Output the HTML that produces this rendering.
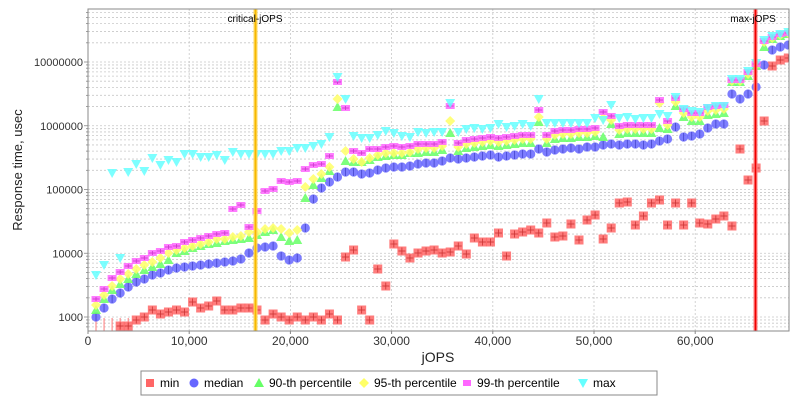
<!DOCTYPE html>
<html><head><meta charset="utf-8"><style>
html,body{margin:0;padding:0;background:#fff;width:800px;height:400px;overflow:hidden}
text{font-family:"Liberation Sans",sans-serif}
</style></head><body>
<svg id="s" width="800" height="400" xmlns="http://www.w3.org/2000/svg"></svg>
<script>
var s=document.getElementById('s');var NS='http://www.w3.org/2000/svg';
function el(t,a,txt){var e=document.createElementNS(NS,t);for(var k in a)e.setAttribute(k,a[k]);if(txt!==undefined)e.textContent=txt;s.appendChild(e);return e;}
var L=88,R=789,T=9,B=331;
function Y(v){return 317-63.75*(Math.log10(v)-3);}
function X(j){return 88+j*0.01012;}
el('rect',{x:L,y:T,width:R-L,height:B-T,fill:'#fff'});
for(var d=2;d<=7;d++)for(var m=1;m<=9;m++){var y=Y(m*Math.pow(10,d));if(y>T&&y<B)el('line',{x1:L,x2:R,y1:y,y2:y,stroke:'#c8c8c8','stroke-width':0.8,'stroke-dasharray':'2,2'});}
for(var j=10000;j<=60000;j+=10000){var x=X(j);el('line',{x1:x,x2:x,y1:T,y2:B,stroke:'#c8c8c8','stroke-width':0.8,'stroke-dasharray':'2,2'});}
var med=[317,308,299,293,287,282,279,275,273,270,268,267,266,265,264,263,262,261,259,253,248,247,246,256,260,258,228,199,188,182,177,172,172,174,173,170,168,167,167,166,164,163,
163,161,158,159,158,157,156,155,157,156,155,154,154,149,152,150,149,148,149,147,147,145,144,145,144,144,145,144,141,139,127,137,136,134,128,124,124,94,99,94,87,65,50,47,45];
var g=[310,299,290,284,279,274,270,267,264,260,253,251,248,246,244,243,241,240,239,238,235,232,230,237,241,240,198,185,178,171,107,161,162,162,160,157,156,155,155,153,153,152,
152,150,133,151,148,147,146,145,146,145,144,143,143,122,143,139,138,138,137,137,136,137,124,134,133,133,133,133,128,129,106,117,121,121,115,114,113,82,82,76,66,47,39,36,34];
var yl=[305,295,286,279,274,269,265,262,258,253,250,248,246,244,242,239,239,237,236,232,232,229,228,229,233,230,187,179,174,167,99,151,159,162,158,155,153,153,153,152,149,148];
var pk=[299,289,278,272,266,261,258,253,251,247,246,242,240,238,236,234,233,209,205,227,211,191,189,181,182,181,169,165,164,156,82,108,151,153,149,149,147,146,147,146,144,144];
var cy=[275,265,173,258,172,164,171,158,165,160,162,154,154,157,157,155,160,152,154,154,154,154,154,151,151,148,148,146,144,137,77,99,136,138,138,135,131,133,136,137,132,133,
132,132,103,132,129,128,129,128,124,127,126,124,126,99,123,123,123,123,123,123,118,120,105,118,117,119,118,118,114,116,97,109,111,112,108,106,106,79,79,71,63,40,36,34,32];
var mn=[340,340,340,326,326,320,317,310,314,312,310,312,302,308,306,301,310,310,308,308,310,320,314,317,320,317,320,317,320,314,320,257,250,310,320,269,286,244,251,258,253,251,
250,253,252,246,254,238,242,242,233,256,234,232,230,233,223,237,236,224,240,220,215,239,228,203,202,225,216,203,200,225,203,225,203,223,224,219,216,226,149,180,168,121,66,60,58];
var sp={44:[121,106],55:[117,110],63:[118,112],70:[103,100]};
var tail={79:[81,80],80:[81,80],81:[74,72],82:[65,64],83:[42,41],84:[38,37],85:[35,34],86:[33,33]};
for(var i=42;i<87;i++){var a=sp[i]||tail[i];if(a){yl.push(a[0]);pk.push(a[1]);}else{yl.push(g[i]-4);pk.push(g[i]-8);}}
function px(i){return 96+8.05*i;}
var g1=document.createElementNS(NS,'g');g1.setAttribute('clip-path','url(#c)');
el('clipPath',{id:'c'}).appendChild((function(){var r=document.createElementNS(NS,'rect');r.setAttribute('x',L);r.setAttribute('y',T);r.setAttribute('width',R-L);r.setAttribute('height',B-T);return r;})());
s.appendChild(g1);
function add(t,a){var e=document.createElementNS(NS,t);for(var k in a)e.setAttribute(k,a[k]);g1.appendChild(e);return e;}
for(var i=0;i<5;i++){add('line',{x1:px(i),x2:px(i),y1:318,y2:331,stroke:'#f77','stroke-width':1});}
function sq(x,y,c,w,h,k){add('rect',{x:x-w/2,y:y-h/2,width:w,height:h,fill:c,'fill-opacity':0.85});add('line',{x1:x-w/2+1,x2:x+w/2-1,y1:y,y2:y,stroke:k,'stroke-width':0.8});add('line',{x1:x,x2:x,y1:y-h/2+1,y2:y+h/2-1,stroke:k,'stroke-width':0.8});}
for(var i=0;i<87;i++){var x=px(i);if(mn[i]<335)sq(x,mn[i],'#f66',9,9,'#c33');}
for(var i=0;i<87;i++){var x=px(i);
 add('circle',{cx:x,cy:med[i],r:4.6,fill:'#66f','fill-opacity':0.85});add('line',{x1:x,x2:x,y1:med[i]-4,y2:med[i]+4,stroke:'#44c','stroke-width':0.8});}
for(var i=0;i<87;i++){var x=px(i),y=g[i];add('polygon',{points:(x)+','+(y-5)+' '+(x+5)+','+(y+4)+' '+(x-5)+','+(y+4),fill:'#6f6','fill-opacity':0.85});}
for(var i=0;i<87;i++){var x=px(i),y=yl[i];add('polygon',{points:x+','+(y-5)+' '+(x+5)+','+y+' '+x+','+(y+5)+' '+(x-5)+','+y,fill:'#ff6','fill-opacity':0.85});}
for(var i=0;i<87;i++){sq(px(i),pk[i],'#f6f',9,6,'#c3c');}
for(var i=0;i<87;i++){var x=px(i),y=cy[i];add('polygon',{points:(x-5)+','+(y-4)+' '+(x+5)+','+(y-4)+' '+x+','+(y+5),fill:'#6ff','fill-opacity':0.85});}
el('line',{x1:255.5,x2:255.5,y1:T,y2:B,stroke:'#ffd860','stroke-width':4});
el('line',{x1:255.5,x2:255.5,y1:T,y2:B,stroke:'#f5b800','stroke-width':1.6});
el('text',{x:255,y:22,'font-size':10,'text-anchor':'middle',fill:'#000'},'critical-jOPS');
el('line',{x1:755.5,x2:755.5,y1:T,y2:B,stroke:'#ff8080','stroke-width':4});
el('line',{x1:755.5,x2:755.5,y1:T,y2:B,stroke:'#e00','stroke-width':1.6});
el('text',{x:753,y:22,'font-size':10,'text-anchor':'middle',fill:'#000'},'max-jOPS');
el('rect',{x:L,y:T,width:R-L,height:B-T,fill:'none',stroke:'#888','stroke-width':1});
var lab=['1000','10000','100000','1000000','10000000'];
for(var d=3;d<=7;d++){var y=Y(Math.pow(10,d));el('text',{x:83,y:y+4,'font-size':11,'text-anchor':'end',fill:'#333'},lab[d-3]);}
for(var d=2;d<=7;d++)for(var m=1;m<=9;m++){var y=Y(m*Math.pow(10,d));if(y>T&&y<B)el('line',{x1:L-(m==1?4:2),x2:L,y1:y,y2:y,stroke:'#888','stroke-width':0.8});}
var xl=['0','10,000','20,000','30,000','40,000','50,000','60,000'];
for(var k=0;k<7;k++){var x=X(k*10000);el('line',{x1:x,x2:x,y1:B,y2:B+3,stroke:'#888'});el('text',{x:x,y:345,'font-size':12,'text-anchor':'middle',fill:'#333'},xl[k]);}
el('text',{x:438,y:362,'font-size':14,'text-anchor':'middle',fill:'#222'},'jOPS');
el('text',{x:0,y:0,'font-size':13,'text-anchor':'middle',fill:'#222',transform:'translate(22,170) rotate(-90)'},'Response time, usec');
el('rect',{x:141,y:371,width:516,height:24,fill:'#fff',stroke:'#888'});
var lx=[150,194,259,364,467,583];var ln=['min','median','90-th percentile','95-th percentile','99-th percentile','max'];
for(var k=0;k<6;k++){var x=lx[k],y=383;
 if(k==0)el('rect',{x:x-4,y:y-4,width:8,height:8,fill:'#f66'});
 if(k==1)el('circle',{cx:x,cy:y,r:4.5,fill:'#66f'});
 if(k==2)el('polygon',{points:x+','+(y-5)+' '+(x+5)+','+(y+4)+' '+(x-5)+','+(y+4),fill:'#6f6'});
 if(k==3)el('polygon',{points:x+','+(y-5)+' '+(x+5)+','+y+' '+x+','+(y+5)+' '+(x-5)+','+y,fill:'#ff6'});
 if(k==4)el('rect',{x:x-4,y:y-3,width:8,height:6,fill:'#f6f'});
 if(k==5)el('polygon',{points:(x-5)+','+(y-4)+' '+(x+5)+','+(y-4)+' '+x+','+(y+5),fill:'#6ff'});
 el('text',{x:x+10,y:y+4,'font-size':12,fill:'#000'},ln[k]);
}
</script>
</body></html>
